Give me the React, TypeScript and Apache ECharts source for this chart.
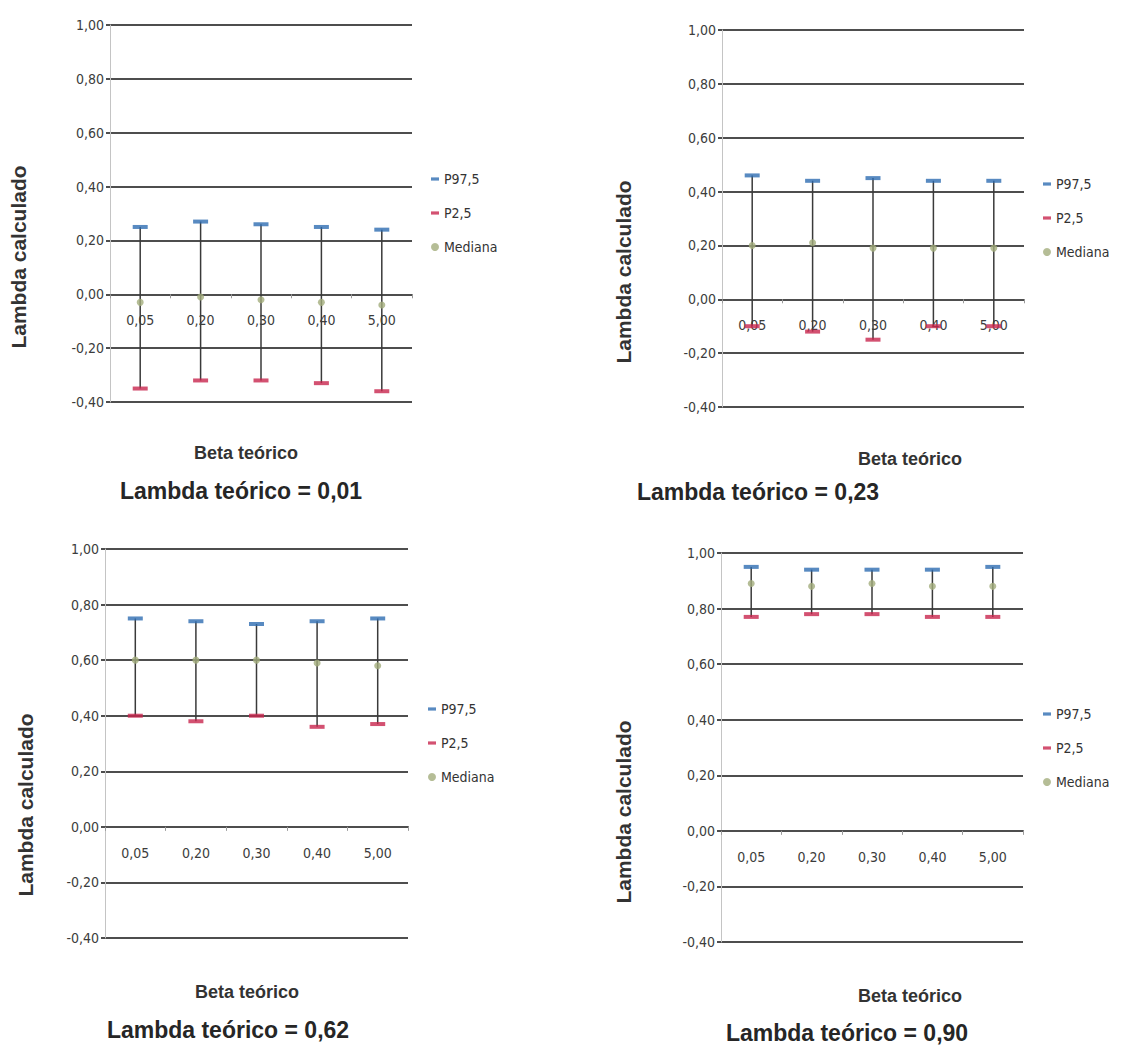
import React, { useEffect, useRef } from "react";
import * as echarts from "echarts";

// Beta teórico categories (x axis) and the y tick range
const betaLabels = ["0,05", "0,20", "0,30", "0,40", "5,00"];
const yMin = -0.4;
const yMax = 1.0;
const yStep = 0.2;

// Lambda teórico = 0,01
const p975_001 = [0.25, 0.27, 0.26, 0.25, 0.24];
const p25_001 = [-0.35, -0.32, -0.32, -0.33, -0.36];
const med_001 = [-0.03, -0.01, -0.02, -0.03, -0.04];

// Lambda teórico = 0,23
const p975_023 = [0.46, 0.44, 0.45, 0.44, 0.44];
const p25_023 = [-0.1, -0.12, -0.15, -0.1, -0.1];
const med_023 = [0.2, 0.21, 0.19, 0.19, 0.19];

// Lambda teórico = 0,62
const p975_062 = [0.75, 0.74, 0.73, 0.74, 0.75];
const p25_062 = [0.4, 0.38, 0.4, 0.36, 0.37];
const med_062 = [0.6, 0.6, 0.6, 0.59, 0.58];

// Lambda teórico = 0,90
const p975_090 = [0.95, 0.94, 0.94, 0.94, 0.95];
const p25_090 = [0.77, 0.78, 0.78, 0.77, 0.77];
const med_090 = [0.89, 0.88, 0.89, 0.88, 0.88];

const panelTitles = [
  "Lambda teórico = 0,01",
  "Lambda teórico = 0,23",
  "Lambda teórico = 0,62",
  "Lambda teórico = 0,90",
];

const NARROW = "'Liberation Sans Narrow','DejaVu Sans Condensed','Arial Narrow',sans-serif";
const SANS = "'Liberation Sans',Arial,Helvetica,sans-serif";
const GRID_COLOR = "#4e4e4e";
const BLUE = "#2e6db2";
const RED = "#c8264d";
const OLIVE = "#a2ad7c";
const DASH_ICON = "path://M0,0h10v4h-10z";

type Panel = {
  hi: number[];
  lo: number[];
  med: number[];
  grid: { left: number; top: number; width: number; height: number };
  legend: { left: number; top: number };
  yTitle: [number, number];
  xTitle: [number, number];
  title: [number, number];
};

const panels: Panel[] = [
  {
    hi: p975_001, lo: p25_001, med: med_001,
    grid: { left: 110, top: 25, width: 302, height: 377 },
    legend: { left: 426, top: 167 },
    yTitle: [18, 257], xTitle: [246, 453], title: [241, 491],
  },
  {
    hi: p975_023, lo: p25_023, med: med_023,
    grid: { left: 722, top: 30, width: 302, height: 377 },
    legend: { left: 1038, top: 172 },
    yTitle: [623, 272], xTitle: [910, 459], title: [758, 492],
  },
  {
    hi: p975_062, lo: p25_062, med: med_062,
    grid: { left: 105, top: 549, width: 303, height: 389 },
    legend: { left: 423, top: 697 },
    yTitle: [25, 805], xTitle: [247, 992], title: [228, 1030],
  },
  {
    hi: p975_090, lo: p25_090, med: med_090,
    grid: { left: 721, top: 553, width: 302, height: 389 },
    legend: { left: 1038, top: 702 },
    yTitle: [623, 812], xTitle: [910, 996], title: [847, 1033],
  },
];

const fmtTick = (v: number) => {
  const n = Math.abs(v) < 1e-9 ? 0 : v;
  return n.toFixed(2).replace(".", ",");
};

function buildOption() {
  const grid: any[] = [];
  const xAxis: any[] = [];
  const yAxis: any[] = [];
  const legend: any[] = [];
  const series: any[] = [];
  const graphic: any[] = [];

  panels.forEach((p, i) => {
    grid.push({ ...p.grid, containLabel: false });

    // the category axis crosses the value axis at 0, labels included
    const zeroOffset = -p.grid.height * ((0 - yMin) / (yMax - yMin));

    xAxis.push({
      type: "category",
      gridIndex: i,
      data: betaLabels,
      boundaryGap: true,
      position: "bottom",
      offset: zeroOffset,
      axisLine: { onZero: false, lineStyle: { color: GRID_COLOR, width: 2 } },
      axisTick: { show: true, length: 4, lineStyle: { color: "#9a9a9a" } },
      axisLabel: { margin: 19, fontFamily: NARROW, fontSize: 14, color: "#3c3c3c" },
      splitLine: { show: false },
    });

    yAxis.push({
      type: "value",
      gridIndex: i,
      min: yMin,
      max: yMax,
      interval: yStep,
      axisLine: { show: true, lineStyle: { color: "#c4c4c4", width: 1 } },
      axisTick: { show: true, length: 4, lineStyle: { color: GRID_COLOR, width: 2 } },
      axisLabel: { margin: 6, fontFamily: NARROW, fontSize: 14, color: "#3c3c3c", formatter: fmtTick },
      splitLine: { show: true, lineStyle: { color: GRID_COLOR, width: 2 } },
    });

    legend.push({
      orient: "vertical",
      left: p.legend.left,
      top: p.legend.top,
      itemWidth: 8,
      itemHeight: 8,
      itemGap: 20,
      selectedMode: false,
      textStyle: { fontFamily: NARROW, fontSize: 14, color: "#333" },
      data: [
        { name: "P97,5", icon: DASH_ICON },
        { name: "P2,5", icon: DASH_ICON },
        { name: "Mediana", icon: "circle" },
      ],
    });

    // high-low line joining P2,5 and P97,5 for each beta
    series.push({
      type: "custom",
      name: "rango",
      xAxisIndex: i,
      yAxisIndex: i,
      z: 2,
      data: p.lo.map((lo, k) => [k, lo, p.hi[k]]),
      encode: { x: 0, y: [1, 2] },
      renderItem: (_params: any, api: any) => {
        const x = api.value(0);
        const a = api.coord([x, api.value(1)]);
        const b = api.coord([x, api.value(2)]);
        return {
          type: "line",
          shape: { x1: a[0], y1: a[1], x2: b[0], y2: b[1] },
          style: { stroke: "#3a3a3a", lineWidth: 1.5 },
        };
      },
    });

    series.push({
      type: "scatter",
      name: "P97,5",
      xAxisIndex: i,
      yAxisIndex: i,
      z: 3,
      symbol: "rect",
      symbolSize: [15, 4],
      itemStyle: { color: BLUE },
      data: p.hi,
    });

    series.push({
      type: "scatter",
      name: "P2,5",
      xAxisIndex: i,
      yAxisIndex: i,
      z: 3,
      symbol: "rect",
      symbolSize: [15, 4],
      itemStyle: { color: RED },
      data: p.lo,
    });

    series.push({
      type: "scatter",
      name: "Mediana",
      xAxisIndex: i,
      yAxisIndex: i,
      z: 4,
      symbol: "circle",
      symbolSize: 7,
      itemStyle: { color: OLIVE },
      data: p.med,
    });

    graphic.push({
      type: "text",
      x: p.yTitle[0],
      y: p.yTitle[1],
      rotation: Math.PI / 2,
      style: {
        text: "Lambda calculado",
        fontFamily: SANS,
        fontWeight: "bold",
        fontSize: 21,
        fill: "#333",
        align: "center",
        verticalAlign: "middle",
      },
    });
    graphic.push({
      type: "text",
      x: p.xTitle[0],
      y: p.xTitle[1],
      style: {
        text: "Beta teórico",
        fontFamily: SANS,
        fontWeight: "bold",
        fontSize: 18,
        fill: "#333",
        align: "center",
        verticalAlign: "middle",
      },
    });
    graphic.push({
      type: "text",
      x: p.title[0],
      y: p.title[1],
      style: {
        text: panelTitles[i],
        fontFamily: SANS,
        fontWeight: "bold",
        fontSize: 23,
        fill: "#262626",
        align: "center",
        verticalAlign: "middle",
      },
    });
  });

  return {
    animation: false,
    backgroundColor: "#ffffff",
    grid,
    xAxis,
    yAxis,
    legend,
    series,
    graphic,
  };
}

export default function App() {
  const ref = useRef<HTMLDivElement>(null);

  useEffect(() => {
    if (!ref.current) return;
    const chart = echarts.init(ref.current, undefined, { renderer: "svg" });
    chart.setOption(buildOption());
    return () => chart.dispose();
  }, []);

  return (
    <div
      ref={ref}
      style={{ position: "fixed", left: 0, top: 0, width: 1146, height: 1050, background: "#fff" }}
    />
  );
}
